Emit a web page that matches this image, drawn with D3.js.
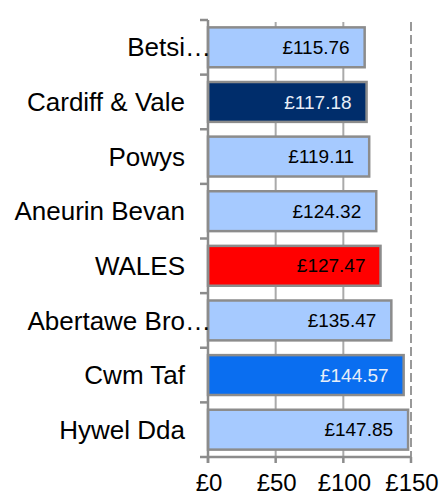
<!DOCTYPE html>
<html><head><meta charset="utf-8">
<script src="https://cdn.jsdelivr.net/npm/d3@7"></script>
<style>
html,body{margin:0;padding:0;background:#fff;}
text{font-family:"Liberation Sans",Arial,sans-serif;}
</style></head>
<body><svg id="c" width="441" height="495"></svg>
<script>
const categories = ["Betsi…","Cardiff & Vale","Powys","Aneurin Bevan","WALES","Abertawe Bro…","Cwm Taf","Hywel Dda"];
const values = [115.76,117.18,119.11,124.32,127.47,135.47,144.57,147.85];
const barColors = ["#A6CAFF","#002D6B","#A6CAFF","#A6CAFF","#FF0000","#A6CAFF","#0A6EF0","#A6CAFF"];
const labelColors = ["#000","#E8EEF8","#000","#000","#000","#000","#E8EEF8","#000"];
const xTicks = [0,50,100,150];
const xTickLabels = ["£0","£50","£100","£150"];

(function(){
const svg = d3.select("#c");
const mL = 208, mR = 411, mT = 20, mB = 457;
const x = d3.scaleLinear().domain([0,150]).range([mL,mR]);
const y = d3.scaleBand().domain(categories).range([mT,mB]).paddingInner(0.27).paddingOuter(0.135);

// gridlines
svg.append("g").selectAll("line").data(xTicks.filter(d=>d>0)).join("line")
  .attr("x1",d=>x(d)).attr("x2",d=>x(d)).attr("y1",mT+2).attr("y2",mB)
  .attr("stroke",d=>d===150?"#999":"#aaa").attr("stroke-width",2)
  .attr("stroke-dasharray",d=>d===150?"9,4":null);

// bars
svg.append("g").selectAll("rect").data(values).join("rect")
  .attr("x",x(0)).attr("y",(d,i)=>y(categories[i]))
  .attr("width",d=>x(d)-x(0)).attr("height",y.bandwidth())
  .attr("fill",(d,i)=>barColors[i]).attr("stroke","#8c8c8c").attr("stroke-width",2.5);

// value labels
svg.append("g").selectAll("text").data(values).join("text")
  .attr("x",d=>x(d)-15).attr("y",(d,i)=>y(categories[i])+y.bandwidth()/2)
  .attr("dy","0.35em").attr("text-anchor","end").attr("font-size",19)
  .attr("fill",(d,i)=>labelColors[i]).text(d=>"£"+d.toFixed(2));

// y axis
const step = (mB-mT)/categories.length;
const bounds = d3.range(categories.length+1).map(i=>mT+i*step);
const ax = svg.append("g").attr("stroke","#8c8c8c").attr("stroke-width",2.5);
ax.append("line").attr("x1",mL).attr("x2",mL).attr("y1",mT).attr("y2",mB+6);
ax.selectAll(".yt").data(bounds).join("line").attr("class","yt")
  .attr("x1",mL-8).attr("x2",mL).attr("y1",d=>d).attr("y2",d=>d);
// x axis
ax.append("line").attr("x1",mL).attr("x2",mR).attr("y1",mB).attr("y2",mB);
ax.selectAll(".xt").data(xTicks).join("line").attr("class","xt")
  .attr("x1",d=>x(d)).attr("x2",d=>x(d)).attr("y1",mB).attr("y2",mB+6);

// category labels
const cl = svg.append("g").selectAll("text").data(categories).join("text")
  .attr("x",185).attr("y",d=>y(d)+y.bandwidth()/2).attr("dy","0.35em")
  .attr("text-anchor","end").attr("font-size",26).attr("fill","#000").text(d=>d);
cl.each(function(d){
  if(d.endsWith("…")){
    const w = this.getSubStringLength(d.length-1,1);
    d3.select(this).attr("x",185+w);
  }
});

// x tick labels
svg.append("g").selectAll("text").data(xTicks).join("text")
  .attr("x",d=>x(d)+1).attr("y",491).attr("text-anchor","middle")
  .attr("font-size",24).attr("fill","#000").text((d,i)=>xTickLabels[i]);
})();
</script></body></html>
